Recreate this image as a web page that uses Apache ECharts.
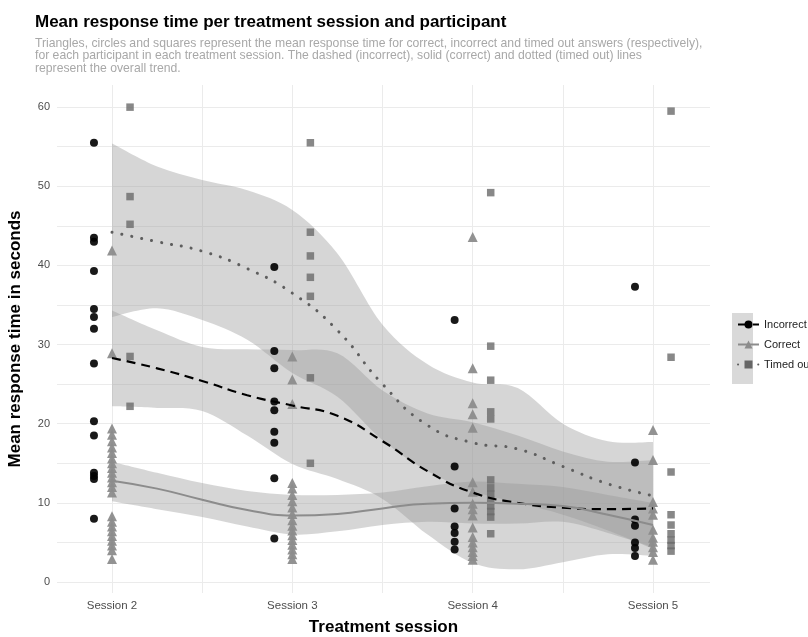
<!DOCTYPE html>
<html>
<head>
<meta charset="utf-8">
<script src="https://cdn.jsdelivr.net/npm/echarts@6/dist/echarts.min.js"></script>
<style>
  html, body { margin: 0; padding: 0; background: #fff; }
  #main { width: 808px; height: 637px; }
</style>
</head>
<body>
<div id="main"></div>
<script>
// sessions on the x axis, points are dodged left / centre / right
var sessions = [2, 3, 4, 5];
var sessionLabels = ['Session 2', 'Session 3', 'Session 4', 'Session 5'];
var yTicks = [0, 10, 20, 30, 40, 50, 60];

// mean response time per participant (one list per session)
var incorrect = [
    [55.5, 43.5, 43.0, 39.3, 34.5, 33.5, 32.0, 27.6, 20.3, 18.5, 13.8, 13.4, 13.0, 8.0],
    [39.8, 29.2, 27.0, 22.8, 21.7, 19.0, 17.6, 13.1, 5.5],
    [33.1, 14.6, 9.3, 7.0, 6.2, 5.1, 4.1],
    [37.3, 15.1, 7.9, 7.1, 5.0, 4.3, 3.3]
];
var correct = [
    [41.9, 28.9, 19.4, 18.6, 17.8, 17.0, 16.3, 15.6, 15.0, 14.4, 13.8, 13.2, 12.6, 12.0, 11.3, 8.3, 7.6, 7.0, 6.4, 5.8, 5.2, 4.6, 4.0, 2.9],
    [28.5, 25.6, 22.5, 12.5, 11.8, 11.0, 10.2, 9.4, 8.6, 7.8, 7.1, 6.5, 5.9, 5.3, 4.7, 4.1, 3.5, 2.9],
    [43.6, 27.0, 22.6, 21.2, 19.5, 12.6, 11.4, 9.9, 9.2, 8.4, 6.9, 5.7, 5.0, 4.4, 3.8, 3.3, 2.8],
    [19.2, 15.4, 10.1, 9.3, 8.5, 6.6, 5.6, 5.1, 4.4, 3.8, 2.8]
];
var timedOut = [
    [60.0, 48.7, 45.2, 28.5, 22.2],
    [55.5, 44.2, 41.2, 38.5, 36.1, 25.8, 15.0],
    [49.2, 29.8, 25.5, 21.5, 20.6, 12.9, 11.9, 11.1, 10.3, 9.6, 8.9, 8.2, 6.1],
    [59.5, 28.4, 13.9, 8.5, 7.2, 6.1, 5.3, 4.6, 3.9]
];

// overall trend (loess) and its band, read at these x positions
var trendX = [2, 2.25, 2.5, 2.75, 3, 3.25, 3.5, 3.75, 4, 4.25, 4.5, 4.75, 5];
var incorrectTrend = [28.3, 27.0, 25.4, 23.6, 22.3, 21.0, 17.8, 14.0, 11.3, 10.0, 9.4, 9.2, 9.3];
var incorrectLow   = [22.2, 22.0, 21.6, 18.5, 14.9, 13.0, 10.5, 6.0, 2.4, 1.6, 2.5, 3.5, 3.3];
var incorrectHigh  = [34.3, 31.8, 29.7, 29.4, 29.3, 28.9, 24.2, 21.3, 20.2, 18.5, 16.5, 15.2, 15.4];
var correctTrend   = [12.8, 11.8, 10.4, 9.1, 8.4, 8.6, 9.3, 9.9, 10.0, 9.9, 9.6, 8.5, 7.2];
var correctLow     = [10.2, 9.2, 8.2, 7.0, 6.0, 6.4, 7.2, 7.6, 7.4, 7.4, 7.6, 6.2, 4.4];
var correctHigh    = [15.2, 13.8, 12.5, 11.5, 11.0, 11.0, 11.3, 12.1, 12.7, 12.4, 12.0, 11.0, 10.0];
var timedTrend     = [44.2, 43.0, 41.8, 39.6, 36.5, 31.8, 25.0, 19.8, 17.6, 16.8, 14.6, 12.4, 10.9];
var timedLow       = [33.5, 34.6, 33.1, 30.6, 26.4, 23.4, 17.9, 14.0, 11.5, 10.0, 8.5, 6.5, 4.2];
var timedHigh      = [55.4, 52.5, 50.8, 49.5, 47.0, 41.5, 32.5, 27.5, 25.2, 24.5, 20.0, 17.8, 17.7];

var dodge = 0.1;
var FONT = '"Liberation Sans", Arial, Helvetica, sans-serif';

function points(list, offset) {
    var out = [];
    for (var i = 0; i < list.length; i++) {
        for (var j = 0; j < list[i].length; j++) {
            out.push([sessions[i] + offset, list[i][j]]);
        }
    }
    return out;
}

function pairs(xs, ys) {
    var out = [];
    for (var i = 0; i < xs.length; i++) out.push([xs[i], ys[i]]);
    return out;
}

// smooth cubic segments through pixel points (catmull-rom style)
function curve(pts) {
    var s = '';
    var n = pts.length;
    for (var i = 0; i < n - 1; i++) {
        var p0 = pts[Math.max(i - 1, 0)], p1 = pts[i], p2 = pts[i + 1], p3 = pts[Math.min(i + 2, n - 1)];
        var c1x = p1[0] + (p2[0] - p0[0]) / 6, c1y = p1[1] + (p2[1] - p0[1]) / 6;
        var c2x = p2[0] - (p3[0] - p1[0]) / 6, c2y = p2[1] - (p3[1] - p1[1]) / 6;
        s += ' C' + c1x + ',' + c1y + ' ' + c2x + ',' + c2y + ' ' + p2[0] + ',' + p2[1];
    }
    return s;
}

// confidence band drawn as one closed path through the axis scales
function band(low, high) {
    return {
        type: 'custom', silent: true, z: 1, clip: true,
        data: trendX.map(function (x, i) { return [x, low[i], high[i]]; }),
        encode: { x: 0, y: [1, 2] },
        renderItem: function (params, api) {
            if (params.dataIndex !== 0) return null;
            var top = [], bottom = [];
            for (var i = 0; i < trendX.length; i++) {
                top.push(api.coord([trendX[i], high[i]]));
                bottom.push(api.coord([trendX[i], low[i]]));
            }
            bottom.reverse();
            var d = 'M' + top[0][0] + ',' + top[0][1] + curve(top) +
                    ' L' + bottom[0][0] + ',' + bottom[0][1] + curve(bottom) + ' Z';
            return {
                type: 'path',
                shape: { pathData: d },
                style: { fill: 'rgba(153,153,153,0.4)', stroke: null }
            };
        }
    };
}

var series = [
    band(incorrectLow, incorrectHigh),
    band(correctLow, correctHigh),
    band(timedLow, timedHigh),
    {
        name: 'Incorrect', type: 'line', data: pairs(trendX, incorrectTrend),
        smooth: true, showSymbol: false, symbol: 'circle', z: 4,
        itemStyle: { color: '#000000' },
        lineStyle: { color: '#000000', width: 2.2, type: [9, 6] }
    },
    {
        name: 'Correct', type: 'line', data: pairs(trendX, correctTrend),
        smooth: true, showSymbol: false, symbol: 'triangle', z: 4,
        itemStyle: { color: '#8c8c8c' },
        lineStyle: { color: '#8c8c8c', width: 2 }
    },
    {
        name: 'Timed out', type: 'line', data: pairs(trendX, timedTrend),
        smooth: true, showSymbol: false, symbol: 'rect', z: 4,
        itemStyle: { color: '#666666' },
        lineStyle: { color: '#5e5e5e', width: 3, type: [0.1, 10], cap: 'round' }
    },
    {
        name: 'Incorrect', type: 'scatter', data: points(incorrect, -dodge),
        symbol: 'circle', symbolSize: 8, z: 3,
        itemStyle: { color: '#000000', opacity: 0.9 }
    },
    {
        name: 'Correct', type: 'scatter', data: points(correct, 0),
        symbol: 'triangle', symbolSize: 10, z: 3,
        itemStyle: { color: '#8c8c8c', opacity: 0.95 }
    },
    {
        name: 'Timed out', type: 'scatter', data: points(timedOut, dodge),
        symbol: 'rect', symbolSize: 7.5, z: 3,
        itemStyle: { color: '#6a6a6a' }
    }
];

var option = {
    backgroundColor: '#ffffff',
    animation: false,
    textStyle: { fontFamily: FONT },
    title: {
        left: 30, top: 9, itemGap: 6,
        text: 'Mean response time per treatment session and participant',
        textStyle: { fontFamily: FONT, fontSize: 17, fontWeight: 'bold', color: '#000000' },
        subtext: 'Triangles, circles and squares represent the mean response time for correct, incorrect and timed out answers (respectively),\n' +
                 'for each participant in each treatment session. The dashed (incorrect), solid (correct) and dotted (timed out) lines\n' +
                 'represent the overall trend.',
        subtextStyle: { fontFamily: FONT, fontSize: 12.2, color: '#a8a8a8', lineHeight: 12.5 }
    },
    legend: {
        orient: 'vertical',
        left: 732, top: 314,
        itemWidth: 21, itemHeight: 10, itemGap: 9,
        data: ['Incorrect', 'Correct', 'Timed out'],
        textStyle: { fontFamily: FONT, fontSize: 11, color: '#222222' }
    },
    graphic: [{
        type: 'rect', left: 732, top: 313, z: -1,
        shape: { width: 21, height: 71 },
        style: { fill: '#d9d9d9' }
    }],
    grid: { left: 57, right: 98, top: 85, bottom: 44, outerBoundsMode: 'none', containLabel: false },
    xAxis: {
        type: 'value', min: 1.695, max: 5.316,
        name: 'Treatment session', nameLocation: 'middle', nameGap: 26,
        nameTextStyle: { fontFamily: FONT, fontSize: 17, fontWeight: 'bold', color: '#000000' },
        axisLine: { show: false },
        axisTick: { show: false, customValues: [2, 2.5, 3, 3.5, 4, 4.5, 5] },
        axisLabel: {
            customValues: sessions, margin: 7, fontSize: 11.5, color: '#4d4d4d',
            formatter: function (v) { return sessionLabels[sessions.indexOf(v)]; }
        },
        splitLine: { show: true, lineStyle: { color: '#ebebeb', width: 1 } }
    },
    yAxis: {
        type: 'value', min: -1.39, max: 62.8,
        name: 'Mean response time in seconds', nameLocation: 'middle', nameGap: 33,
        nameTextStyle: { fontFamily: FONT, fontSize: 17, fontWeight: 'bold', color: '#000000' },
        axisLine: { show: false },
        axisTick: { show: false, customValues: [0, 5, 10, 15, 20, 25, 30, 35, 40, 45, 50, 55, 60] },
        axisLabel: { customValues: yTicks, margin: 7, fontSize: 11, color: '#4d4d4d' },
        splitLine: { show: true, lineStyle: { color: '#ebebeb', width: 1 } }
    },
    series: series
};

var chart = echarts.init(document.getElementById('main'));
chart.setOption(option);
</script>
</body>
</html>
